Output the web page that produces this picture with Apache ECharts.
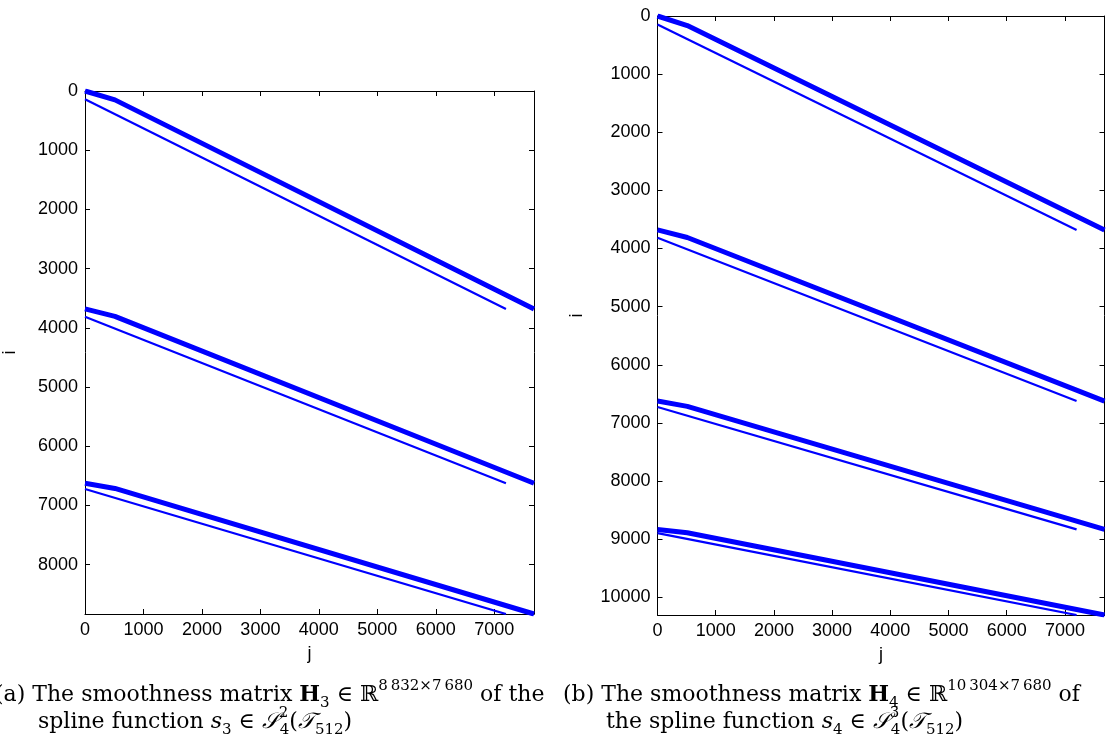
<!DOCTYPE html>
<html><head><meta charset="utf-8">
<script src="https://cdn.jsdelivr.net/npm/echarts@6/dist/echarts.min.js"></script>
<style>html,body{margin:0;padding:0;background:#fff}#c{width:1112px;height:742px}</style>
</head><body><div id="c"></div>
<script>
// ---- data (matrix sizes, band knots) ----
const h3Size = [8832, 7680];          // rows, cols
const h4Size = [10304, 7680];
const bandCols = [0, 512, 7680];      // column knots of the thick band
const offCols = [0, 7200];            // column span of the thin off-band
const h3BandRows = [[0, 150, 3680], [3680, 3805, 6624], [6624, 6712, 8832]];
const h3OffRows = [[140, 3680], [3812, 6624], [6722, 8832]];
const h4BandRows = [[0, 165, 3680], [3680, 3810, 6624], [6624, 6715, 8832], [8832, 8890, 10304]];
const h4OffRows = [[148, 3680], [3815, 6624], [6725, 8832], [8895, 10304]];
const tickStep = 1000;

const BLUE = '#0000ff';
const FONT = 'Liberation Sans';
const chart = echarts.init(document.getElementById('c'), null, {renderer: 'canvas'});

function lbl(max) {
  return {
    fontFamily: FONT, fontSize: 18, color: '#000', margin: 7,
    showMaxLabel: false,
    formatter: v => (v % tickStep === 0 && v < max) ? String(v) : ''
  };
}
function mkX(grid, max, pos, show) {
  return {
    type: 'value', gridIndex: grid, position: pos, min: 0, max: max, interval: tickStep,
    name: show ? 'j' : '', nameLocation: 'middle', nameGap: 31,
    nameTextStyle: {fontFamily: FONT, fontSize: 18, color: '#000'},
    axisLine: {show: true, onZero: false, lineStyle: {color: '#000', width: 1}},
    axisTick: {show: true, inside: true, length: 5, lineStyle: {color: '#000'}},
    axisLabel: show ? lbl(max) : {show: false},
    splitLine: {show: false}
  };
}
function mkY(grid, max, pos, show, gap) {
  return {
    type: 'value', gridIndex: grid, position: pos, inverse: true, min: 0, max: max, interval: tickStep,
    name: show ? 'i' : '', nameLocation: 'middle', nameGap: gap, nameRotate: 90,
    nameTextStyle: {fontFamily: FONT, fontSize: 18, color: '#000'},
    axisLine: {show: true, onZero: false, lineStyle: {color: '#000', width: 1}},
    axisTick: {show: true, inside: true, length: 5, lineStyle: {color: '#000'}},
    axisLabel: show ? lbl(max) : {show: false},
    splitLine: {show: false}
  };
}

const series = [];
function addBands(bandRows, offRows, xi, yi) {
  bandRows.forEach(r => series.push({
    type: 'line', xAxisIndex: xi, yAxisIndex: yi, symbol: 'none', silent: true,
    data: bandCols.map((c, k) => [c, r[k]]),
    lineStyle: {color: BLUE, width: 5, cap: 'butt'}
  }));
  offRows.forEach(r => series.push({
    type: 'line', xAxisIndex: xi, yAxisIndex: yi, symbol: 'none', silent: true,
    data: offCols.map((c, k) => [c, r[k]]),
    lineStyle: {color: BLUE, width: 2.2, cap: 'butt'}
  }));
}
addBands(h3BandRows, h3OffRows, 0, 0);
addBands(h4BandRows, h4OffRows, 2, 2);

const SERIF = 'DejaVu Serif';
const FS = 22, SS = 15;
const rich = {
  bf: {fontFamily: SERIF, fontSize: FS, fontWeight: 'bold', lineHeight: 32, fill: '#000'},
  it: {fontFamily: SERIF, fontSize: FS, fontStyle: 'italic', lineHeight: 32, fill: '#000'},
  sub: {fontFamily: SERIF, fontSize: SS, lineHeight: 19, verticalAlign: 'bottom', fill: '#000'},
  sup: {fontFamily: SERIF, fontSize: SS, lineHeight: 17, verticalAlign: 'top', fill: '#000'},
  supz: {fontFamily: SERIF, fontSize: SS, lineHeight: 17, verticalAlign: 'top', width: 1, fill: '#000'},
  sc: {fontFamily: SERIF, fontSize: FS, fontStyle: 'italic', lineHeight: 32, fill: '#000'}
};
function cap(x, y, text) {
  return {type: 'text', left: x, top: y, silent: true,
    style: {text: text, fontFamily: SERIF, fontSize: FS, lineHeight: 32, fill: '#000', rich: rich}};
}
const TS = '\u2009';
const graphic = [
  cap(-5, 679, '(a) The smoothness matrix {bf|H}{sub|3} \u2208 \u211D{sup|8' + TS + '832\u00D77' + TS + '680} of the'),
  cap(38, 706, 'spline function {it|s}{sub|3} \u2208 {sc|\uD835\uDCAE}{supz|2}{sub|4}({sc|\uD835\uDCAF}{sub|512})'),
  cap(563, 679, '(b) The smoothness matrix {bf|H}{sub|4} \u2208 \u211D{sup|10' + TS + '304\u00D77' + TS + '680} of'),
  cap(606, 706, 'the spline function {it|s}{sub|4} \u2208 {sc|\uD835\uDCAE}{supz|3}{sub|4}({sc|\uD835\uDCAF}{sub|512})')
];

chart.setOption({
  animation: false,
  backgroundColor: '#fff',
  grid: [
    {left: 79, top: 91, width: 455, height: 523, containLabel: false},
    {left: 657.5, top: 16, width: 447, height: 599, containLabel: false}
  ],
  xAxis: [
    mkX(0, h3Size[1], 'bottom', true), mkX(0, h3Size[1], 'top', false),
    mkX(1, h4Size[1], 'bottom', true), mkX(1, h4Size[1], 'top', false)
  ],
  yAxis: [
    mkY(0, h3Size[0], 'left', true, 66), mkY(0, h3Size[0], 'right', false, 0),
    mkY(1, h4Size[0], 'left', true, 71), mkY(1, h4Size[0], 'right', false, 0)
  ],
  series: series,
  graphic: graphic
});
</script></body></html>
